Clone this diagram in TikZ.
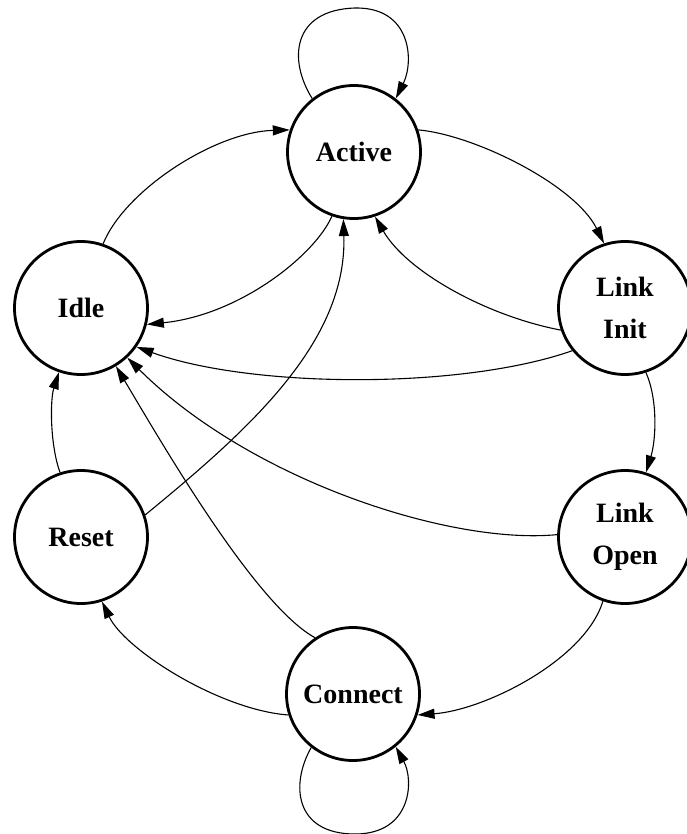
\documentclass[tikz,border=0pt]{standalone}
\usepackage{fontspec}
\setmainfont{Liberation Serif}
\usetikzlibrary{arrows.meta}
\begin{document}
\begin{tikzpicture}[x=1pt,y=-1pt,
  state/.style={circle,draw,line width=2.8pt,minimum size=133pt,inner sep=0pt,
    font=\fontsize{28}{42}\selectfont\bfseries,align=center},
  trans/.style={line width=1.1pt,-{Triangle[length=17pt,width=10pt]}}]
\useasboundingbox (0,0) rectangle (686,834);

% states
\node[state] (active)  at (354,152) {Active};
\node[state] (idle)    at (81,308)  {Idle};
\node[state] (linit)   at (625,308) {Link\\Init};
\node[state] (lopen)   at (625,537) {Link\\Open};
\node[state] (reset)   at (81,537)  {Reset};
\node[state] (connect) at (353,694) {Connect};

% self loops
\draw[trans] (active.128) .. controls (288,60) and (292,10) .. (355,8)
  .. controls (412,7) and (414,62) .. (active.52.5);
\draw[trans] (connect.232) .. controls (290,785) and (295,834) .. (355,834)
  .. controls (412,834) and (414,780) .. (connect.309);

% transitions
\draw[trans] (idle.71.6) .. controls (125,190) and (215,132) .. (active.161.6);
\draw[trans] (active.19.4) .. controls (475,135) and (575,185) .. (linit.108.7);
\draw[trans] (active.251.3) .. controls (315,255) and (240,315) .. (idle.-14);
\draw[trans] (linit.199.4) .. controls (487,316) and (407,272) .. (active.288.7);
\draw[trans] (linit.219) .. controls (460,390) and (250,388) .. (idle.325.5);
\draw[trans] (linit.288.4) .. controls (658,400) and (656,440) .. (lopen.72.3);
\draw[trans] (lopen.178.3) .. controls (450,545) and (250,480) .. (idle.313.3);
\draw[trans] (reset.19.9) .. controls (250,429) and (347,342) .. (active.261);
\draw[trans] (reset.108.4) .. controls (50,445) and (50,400) .. (idle.251);
\draw[trans] (connect.124.3) .. controls (255,605) and (160,440) .. (idle.301.4);
\draw[trans] (connect.198.7) .. controls (220,710) and (125,650) .. (reset.288.4);
\draw[trans] (lopen.251) .. controls (585,660) and (485,710) .. (connect.342.3);
\end{tikzpicture}
\end{document}
